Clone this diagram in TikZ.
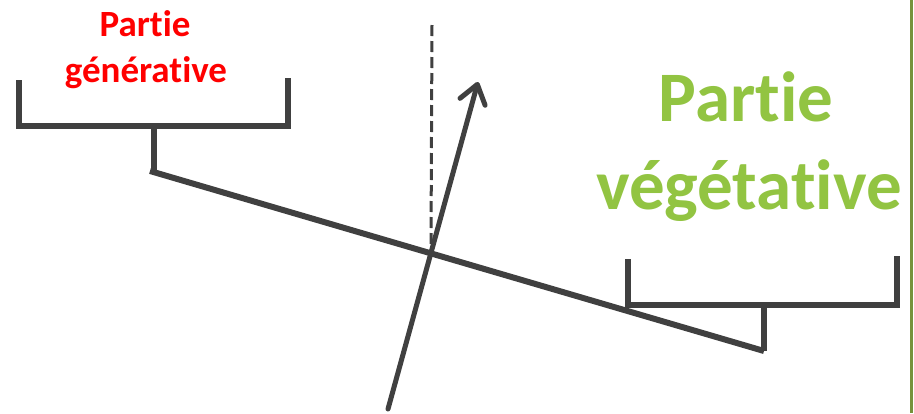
\documentclass[tikz,border=0pt]{standalone}
\usepackage{fontspec}
\setmainfont{Carlito}[Ligatures={NoCommon,NoRare,NoDiscretionary}]
\usetikzlibrary{arrows.meta}
\definecolor{linegray}{RGB}{64,64,64}
\definecolor{leafgreen}{RGB}{146,196,66}
\definecolor{edgegreen}{RGB}{118,146,60}
\definecolor{genred}{RGB}{255,0,0}
\begin{document}
\begin{tikzpicture}[x=1pt,y=-1pt,
  beam/.style={draw=linegray,line width=6pt},
  bracketline/.style={draw=linegray,line width=6pt,line cap=butt},
  dashline/.style={draw=linegray,line width=3pt,dash pattern=on 11pt off 5pt},
  axisarrow/.style={draw=linegray,line width=5pt,line cap=round,
    -{Straight Barb[length=18pt,width=26pt,line width=5pt,round]}},
  redlabel/.style={text=genred,font=\bfseries\fontsize{37}{45}\selectfont,anchor=base,inner sep=0pt},
  greenlabel/.style={text=leafgreen,font=\bfseries\fontsize{71}{88}\selectfont,anchor=base,inner sep=0pt}]
\useasboundingbox (0,0) rectangle (914,413);
\fill[white] (0,0) rectangle (914,413);
% coordinates
\coordinate (lbL) at (19,80);
\coordinate (lbLb) at (19,126);
\coordinate (lbRb) at (288,126);
\coordinate (lbR) at (288,78);
\coordinate (lstemTop) at (154,126);
\coordinate (beamL) at (150,171);
\coordinate (lstemBot) at (154,172);
\coordinate (beamR) at (764,351);
\coordinate (rstemTop) at (764,305);
\coordinate (rbL) at (628,259);
\coordinate (rbLb) at (628,305);
\coordinate (rbRb) at (897,305);
\coordinate (rbR) at (897,256);
\coordinate (arrBot) at (388,409);
\coordinate (arrTip) at (478,82);
\coordinate (dashTop) at (432,25);
\coordinate (dashBot) at (431,246);
\coordinate (edgeTop) at (911,0);
\coordinate (edgeBot) at (911,413);
% green right edge
\draw[edgegreen,line width=3pt] (edgeTop) -- (edgeBot);
% left bracket
\draw[bracketline] (lbL) -- (lbLb) -- (lbRb) -- (lbR);
\draw[bracketline] (lstemTop) -- (lstemBot);
% right bracket
\draw[bracketline] (rbL) -- (rbLb) -- (rbRb) -- (rbR);
\draw[bracketline] (rstemTop) -- (beamR);
% beam
\draw[beam] (beamL) -- (beamR);
% dashed vertical
\draw[dashline] (dashTop) -- (dashBot);
% arrow
\draw[axisarrow] (arrBot) -- (arrTip);
% labels
\node[redlabel] (redA) at (145,36) {Partie};
\node[redlabel] (redB) at (146,82) {générative};
\node[greenlabel] (greenA) at (746,121) {Partie};
\node[greenlabel] (greenB) at (749,209) {végétative};
\end{tikzpicture}
\end{document}
